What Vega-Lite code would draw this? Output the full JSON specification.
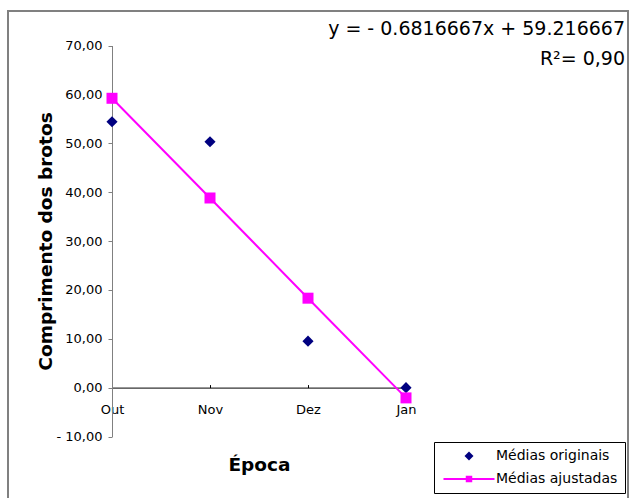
{
  "$schema": "https://vega.github.io/schema/vega-lite/v6.json",
  "width": 620,
  "height": 490,
  "autosize": "none",
  "padding": {"left": 8, "top": 11, "right": 2, "bottom": -3},
  "background": "white",
  "config": {
    "font": "DejaVu Sans",
    "view": {"stroke": "#808080", "strokeWidth": 2},
    "axis": {
      "grid": false,
      "labelFont": "DejaVu Sans",
      "labelFontSize": 13,
      "labelColor": "#000000",
      "titleFont": "DejaVu Sans",
      "titleFontSize": 18.5,
      "titleFontWeight": "bold",
      "titleColor": "#000000"
    },
    "legend": {
      "title": null,
      "orient": "none",
      "legendX": 426,
      "legendY": 431,
      "padding": 7,
      "strokeColor": "#000000",
      "fillColor": "#ffffff",
      "cornerRadius": 0,
      "labelFont": "DejaVu Sans",
      "labelFontSize": 14,
      "labelColor": "#000000",
      "symbolSize": 81,
      "symbolOffset": 21,
      "labelOffset": 20,
      "rowPadding": 9,
      "symbolStrokeWidth": 0
    }
  },
  "title": {
    "text": ["y = - 0.6816667x + 59.216667", "R²= 0,90"],
    "anchor": "end",
    "frame": "group",
    "orient": "top",
    "offset": 0,
    "baseline": "top",
    "align": "right",
    "dx": -3,
    "dy": 58,
    "font": "DejaVu Sans",
    "fontSize": 19,
    "fontWeight": "normal",
    "color": "#000000",
    "lineHeight": 30
  },
  "data": {
    "values": [
      {"mes": "Out", "serie": "Médias originais", "valor": 54.4},
      {"mes": "Nov", "serie": "Médias originais", "valor": 50.3},
      {"mes": "Dez", "serie": "Médias originais", "valor": 9.5},
      {"mes": "Jan", "serie": "Médias originais", "valor": 0.0},
      {"mes": "Out", "serie": "Médias ajustadas", "valor": 59.2},
      {"mes": "Nov", "serie": "Médias ajustadas", "valor": 38.8},
      {"mes": "Dez", "serie": "Médias ajustadas", "valor": 18.3},
      {"mes": "Jan", "serie": "Médias ajustadas", "valor": -2.1}
    ]
  },
  "encoding": {
    "x": {
      "field": "mes",
      "type": "ordinal",
      "sort": ["Out", "Nov", "Dez", "Jan"],
      "scale": {"type": "point", "range": [104, 398], "padding": 0},
      "axis": {
        "title": "Época",
        "orient": "bottom",
        "offset": -113.4,
        "labelAngle": 0,
        "domainColor": "#000000",
        "domainWidth": 1,
        "tickColor": "#000000",
        "tickSize": -3,
        "labelPadding": 19,
        "titleY": 77,
        "titleBaseline": "middle"
      }
    },
    "y": {
      "field": "valor",
      "type": "quantitative",
      "scale": {"domain": [-10, 70], "range": [425.5, 34.5], "nice": false, "zero": false},
      "axis": {
        "title": "Comprimento dos brotos",
        "orient": "left",
        "offset": -104,
        "values": [-10, 0, 10, 20, 30, 40, 50, 60, 70],
        "labelExpr": "(datum.value < 0 ? '- ' : '') + replace(format(abs(datum.value), '.2f'), '.', ',')",
        "domainColor": "#808080",
        "tickColor": "#808080",
        "tickSize": 4,
        "labelPadding": 6,
        "titleX": -67,
        "titleBaseline": "middle"
      }
    },
    "color": {
      "field": "serie",
      "type": "nominal",
      "scale": {"domain": ["Médias originais", "Médias ajustadas"], "range": ["#000080", "#FF00FF"]},
      "legend": {"title": null}
    }
  },
  "layer": [
    {
      "transform": [{"filter": "datum.serie == 'Médias ajustadas'"}],
      "mark": {"type": "line", "color": "#FF00FF", "strokeWidth": 2},
      "encoding": {"color": {"value": "#FF00FF"}}
    },
    {
      "transform": [{"filter": "datum.serie == 'Médias originais'"}],
      "mark": {"type": "point", "filled": true, "opacity": 1, "size": 125},
      "encoding": {
        "shape": {
          "field": "serie",
          "type": "nominal",
          "scale": {
            "domain": ["Médias originais", "Médias ajustadas"],
            "range": ["diamond", "M-5.67,-0.22H5.67V0.22H-5.67Z M-0.72,-0.72H0.72V0.72H-0.72Z"]
          },
          "legend": {"title": null}
        }
      }
    },
    {
      "transform": [{"filter": "datum.serie == 'Médias ajustadas'"}],
      "mark": {"type": "point", "filled": true, "opacity": 1, "size": 121, "shape": "square"}
    }
  ]
}
